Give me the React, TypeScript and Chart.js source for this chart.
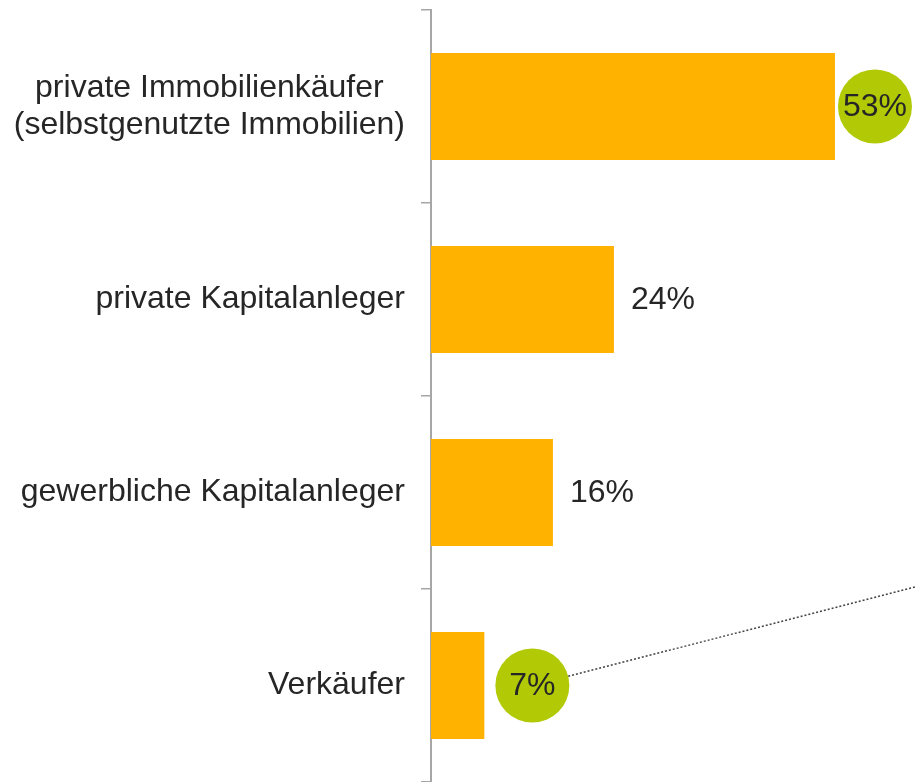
import React, { useEffect, useRef } from "react";
import { Chart, registerables } from "chart.js";

Chart.register(...registerables);

const categories: (string | string[])[] = [
  ["private Immobilienkäufer", "(selbstgenutzte Immobilien)"],
  "private Kapitalanleger",
  "gewerbliche Kapitalanleger",
  "Verkäufer",
];
const shares = [53, 24, 16, 7];
const highlighted = [true, false, false, true];

const FONT = '"Liberation Sans", Arial, sans-serif';
const FS = 32;
const TEXT = "#262626";
const BAR = "#FFB300";
const BADGE = "#B1CA05";
const AXIS = "#a6a6a6";

const labelPlugin = {
  id: "valueLabels",
  afterDatasetsDraw(chart: any) {
    const ctx = chart.ctx;
    const meta = chart.getDatasetMeta(0);
    const yScale = chart.scales.y;
    ctx.save();
    ctx.font = `${FS}px ${FONT}`;
    ctx.textBaseline = "middle";
    meta.data.forEach((bar: any, i: number) => {
      const txt = `${shares[i]}%`;
      if (highlighted[i]) {
        const r = 37;
        const cx = bar.x + (i === 0 ? 40 : 48);
        const cy = bar.y;
        if (i === shares.length - 1) {
          // dotted connector towards the right edge
          const ex = chart.width;
          const ey = (yScale.getPixelForValue(2) + yScale.getPixelForValue(3)) / 2 - 2;
          const dx = ex - cx, dy = ey - cy;
          const len = Math.hypot(dx, dy);
          ctx.save();
          ctx.strokeStyle = "#444";
          ctx.lineWidth = 1.5;
          ctx.setLineDash([2, 2]);
          ctx.beginPath();
          ctx.moveTo(cx + (dx / len) * r, cy + (dy / len) * r);
          ctx.lineTo(ex, ey);
          ctx.stroke();
          ctx.restore();
        }
        ctx.fillStyle = BADGE;
        ctx.beginPath();
        ctx.arc(cx, cy, r, 0, Math.PI * 2);
        ctx.fill();
        ctx.fillStyle = TEXT;
        ctx.textAlign = "center";
        ctx.fillText(txt, cx, cy + 1);
      } else {
        ctx.fillStyle = TEXT;
        ctx.textAlign = "left";
        ctx.fillText(txt, bar.x + 17, bar.y + 1);
      }
    });
    ctx.restore();
  },
  afterDraw(chart: any) {
    // first (two-line) category label, lines centred on each other
    const ctx = chart.ctx;
    const yScale = chart.scales.y;
    const lines = categories[0] as string[];
    ctx.save();
    ctx.font = `${FS}px ${FONT}`;
    ctx.fillStyle = TEXT;
    ctx.textAlign = "center";
    ctx.textBaseline = "middle";
    const right = yScale.right - 10 - 16;
    const widest = Math.max(...lines.map((l) => ctx.measureText(l).width));
    const cx = right - widest / 2;
    const cy = yScale.getPixelForValue(0);
    const lh = 37;
    lines.forEach((l, k) => {
      ctx.fillText(l, cx, cy + (k - (lines.length - 1) / 2) * lh);
    });
    ctx.restore();
  },
};

export default function App() {
  const ref = useRef<HTMLCanvasElement>(null);
  useEffect(() => {
    if (!ref.current) return;
    const chart = new Chart(ref.current, {
      type: "bar",
      data: {
        labels: categories,
        datasets: [
          {
            data: shares,
            backgroundColor: BAR,
            borderWidth: 0,
            categoryPercentage: 1,
            barPercentage: 0.555,
          },
        ],
      },
      options: {
        indexAxis: "y",
        animation: false,
        responsive: true,
        maintainAspectRatio: false,
        layout: { padding: { top: 10, right: 0, bottom: 0, left: 0 } },
        plugins: { legend: { display: false }, tooltip: { enabled: false } },
        scales: {
          x: { display: false, min: 0, max: 63.5 },
          y: {
            afterFit: (scale: any) => {
              scale.width = 431;
              scale.paddingTop = 0;
              scale.paddingBottom = 0;
            },
            border: { display: true, color: AXIS, width: 2 },
            grid: {
              display: true,
              drawOnChartArea: false,
              drawTicks: true,
              tickLength: 10,
              offset: true,
              color: AXIS,
              lineWidth: 1.5,
            },
            ticks: {
              padding: 16,
              font: { family: FONT, size: FS },
              color: (c: any) => (c.index === 0 ? "rgba(0,0,0,0)" : TEXT),
            },
          },
        },
      },
      plugins: [labelPlugin],
    });
    return () => chart.destroy();
  }, []);
  return (
    <div style={{ position: "fixed", left: 0, top: 0, width: 915, height: 782 }}>
      <canvas ref={ref} />
    </div>
  );
}
